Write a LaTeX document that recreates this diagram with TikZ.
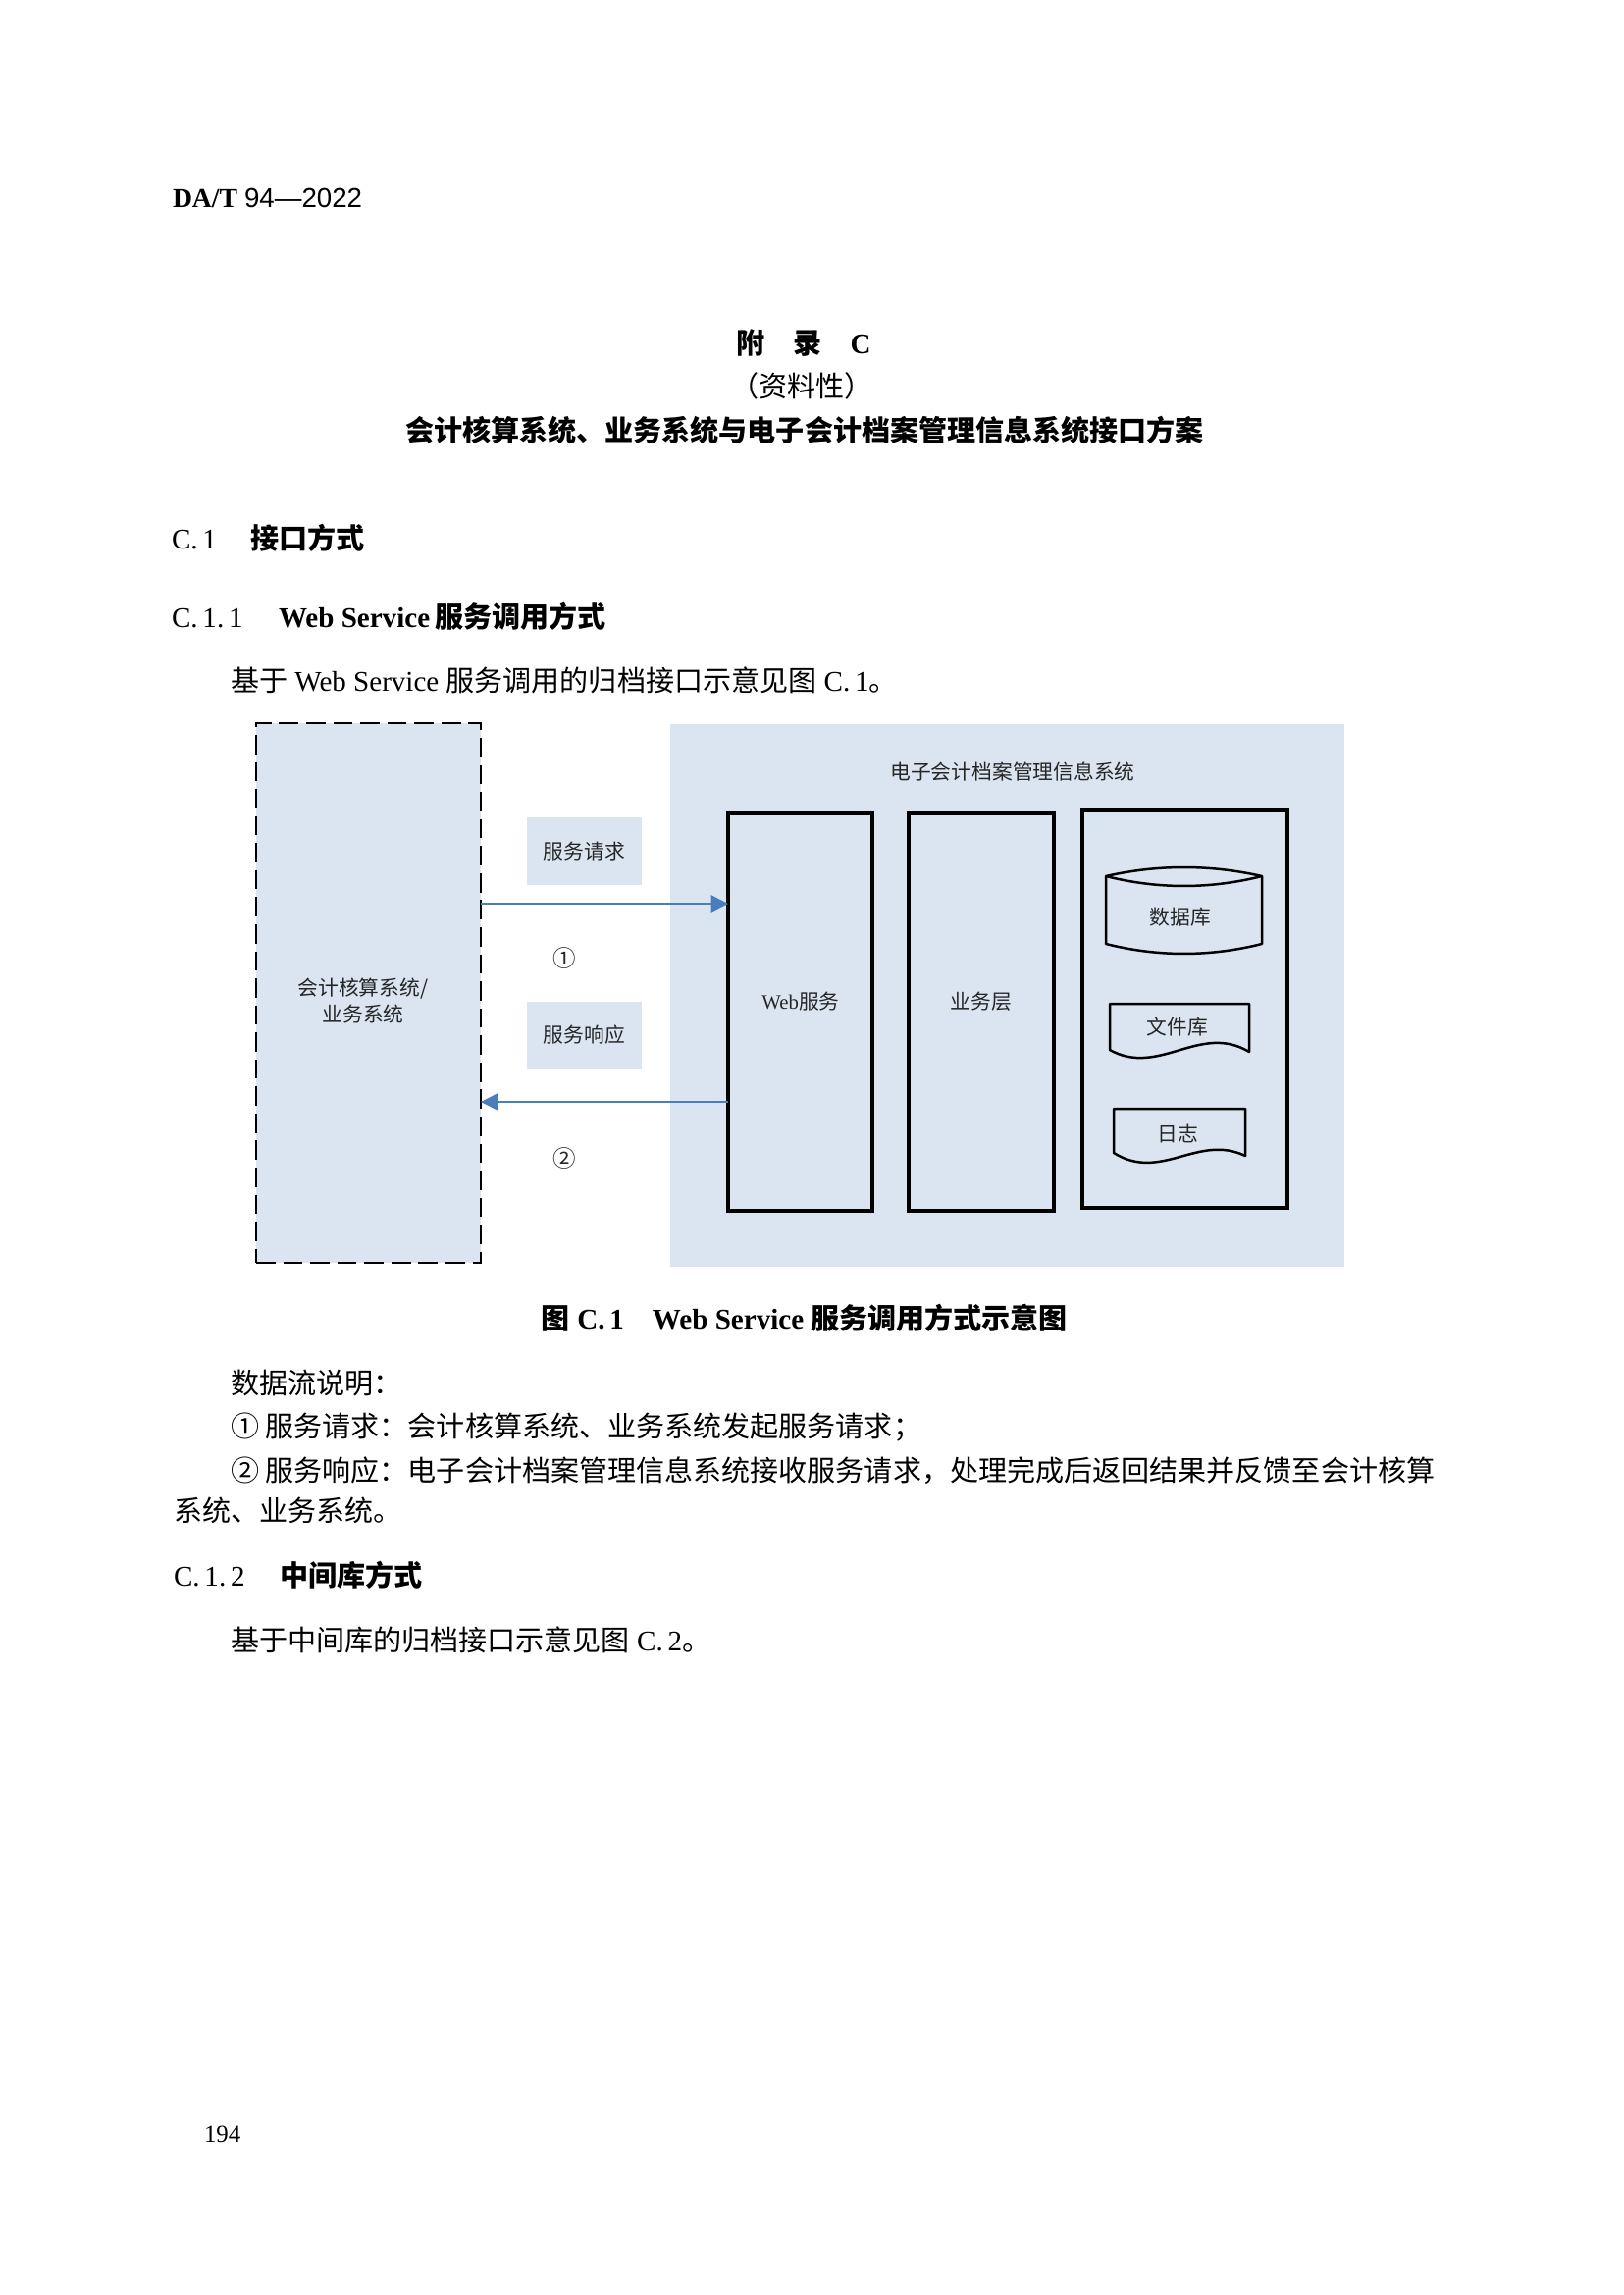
\documentclass[tikz,border=0pt]{standalone}
\usepackage{fontspec}
\setmainfont{Liberation Serif}
\newfontfamily\cjk{Noto Sans CJK SC}
\newfontfamily\arialf{Liberation Sans}
\usetikzlibrary{arrows.meta}
\newcommand\zh[1]{{\cjk #1}}
\newdimen\pxd
\pxd=0.12697mm
\definecolor{bgblue}{RGB}{219,229,241}
\definecolor{arrblue}{RGB}{74,126,187}
\begin{document}
\begin{tikzpicture}[x=0.12697mm,y=-0.12697mm,
  every node/.style={inner sep=0pt, outer sep=0pt},
  body/.style={font=\fontsize{10.5pt}{12.6pt}\selectfont},
  lt/.style={body, anchor=west},
  dg/.style={font=\cjk\fontsize{7.5pt}{9.75pt}\selectfont, text=black!85, align=center},
  panel/.style={fill=bgblue, anchor=north west},
  sysbox/.style={draw=black, line width=1.1pt, anchor=north west},
  shp/.style={draw=black, line width=0.9pt, line join=round},
  flow/.style={draw=arrblue, line width=0.6pt, -{Triangle[length=2.2mm,width=2.2mm]}}
]
\fill[white] (0,0) rectangle (1654,2339);
\path[use as bounding box] (0,0) rectangle (1654,2339);

% ---------- page text ----------
\node[anchor=west, font=\fontsize{10pt}{12pt}\selectfont] (hdr) at (176,202) {\textbf{DA/T} {\arialf 94—2022}};
\node[body, font=\fontsize{10.5pt}{12.6pt}\selectfont\bfseries] (app) at (819,350) {\zh{附　录　}C};
\node[body] (inf) at (817,393) {\zh{（资料性）}};
\node[font=\fontsize{10.5pt}{13pt}\selectfont\bfseries] (ttl) at (820,438) {\zh{会计核算系统、业务系统与电子会计档案管理信息系统接口方案}};
\node[lt] (c1) at (175,548) {\makebox[80\pxd][l]{C.\,1}\zh{\bfseries 接口方式}};
\node[lt] (c11) at (175,628) {\makebox[109\pxd][l]{C.\,1.\,1}\textbf{Web Service}\,\zh{\bfseries 服务调用方式}};
\node[lt] (p1) at (235,693) {\zh{基于}\ Web\ Service\ \zh{服务调用的归档接口示意见图}\ C.\,1\zh{。}};

% ---------- figure ----------
\node[panel, minimum width=687*\pxd, minimum height=553*\pxd] (ems) at (683,738) {};
\node[panel, draw=black, dash pattern=on 2.5mm off 1mm, line width=0.7pt,
      minimum width=229*\pxd, minimum height=550*\pxd] (ext) at (261,737) {};
\node[panel, minimum width=117*\pxd, minimum height=69*\pxd] (req) at (537,833) {};
\node[panel, minimum width=117*\pxd, minimum height=68*\pxd] (res) at (537,1021) {};
\node[sysbox, minimum width=147*\pxd, minimum height=405*\pxd] (web) at (742,829) {};
\node[sysbox, minimum width=148*\pxd, minimum height=405*\pxd] (biz) at (926,829) {};
\node[sysbox, minimum width=209*\pxd, minimum height=405*\pxd] (store) at (1103,826) {};

% database cylinder
\draw[shp] (1127,893) .. controls (1180,881) and (1233,881) .. (1286,893)
  -- (1286,962) .. controls (1233,975.3) and (1180,975.3) .. (1127,962) -- cycle;
\draw[shp] (1127,893) .. controls (1180,906.3) and (1233,906.3) .. (1286,893);
% file store document
\draw[shp] (1131,1070) -- (1131,1023) -- (1273,1023) -- (1273,1072)
  .. controls (1223,1042) and (1181,1098) .. (1131,1070) -- cycle;
% log document
\draw[shp] (1135,1175) -- (1135,1130) -- (1269,1130) -- (1269,1178)
  .. controls (1221,1155) and (1183,1205) .. (1135,1175) -- cycle;

\node[dg] (emst) at (1032,787) {电子会计档案管理信息系统};
\node[dg] (extt) at (370,1020) {会计核算系统/\\业务系统};
\node[dg] (reqt) at (req.center) {服务请求};
\node[dg] (rest) at (res.center) {服务响应};
\node[dg, font=\cjk\fontsize{8.5pt}{10pt}\selectfont] (n1) at (575,977) {①};
\node[dg, font=\cjk\fontsize{8.5pt}{10pt}\selectfont] (n2) at (575,1181) {②};
\node[dg] (webt) at (816,1021) {{\rmfamily Web}服务};
\node[dg] (bizt) at (1000,1021) {业务层};
\node[dg] (dbt) at (1203,935) {数据库};
\node[dg] (filet) at (1200,1047) {文件库};
\node[dg] (logt) at (1200,1155) {日志};

\coordinate (a1) at (600,921);
\coordinate (a2) at (600,1123);
\draw[flow] (ext.east |- a1) -- (web.west |- a1);
\draw[flow] (web.west |- a2) -- (ext.east |- a2);

% ---------- text below ----------
\node[font=\fontsize{10.5pt}{12.6pt}\selectfont\bfseries] (cap) at (820,1343) {\zh{图}\ C.\,1\quad Web\ Service\ \zh{服务调用方式示意图}};
\node[lt] (d0) at (235,1410) {\zh{数据流说明：}};
\node[lt] (d1) at (235,1455) {\zh{①\ 服务请求：会计核算系统、业务系统发起服务请求；}};
\node[lt] (d2) at (235,1499) {\zh{②\ 服务响应：电子会计档案管理信息系统接收服务请求，处理完成后返回结果并反馈至会计核算}};
\node[lt] (d3) at (177,1539) {\zh{系统、业务系统。}};
\node[lt] (c12) at (177,1605) {\makebox[108\pxd][l]{C.\,1.\,2}\zh{\bfseries 中间库方式}};
\node[lt] (p2) at (235,1671) {\zh{基于中间库的归档接口示意见图}\ C.\,2\zh{。}};
\node[anchor=west, font=\fontsize{9pt}{11pt}\selectfont] (pg) at (208,2175) {194};
\end{tikzpicture}
\end{document}
